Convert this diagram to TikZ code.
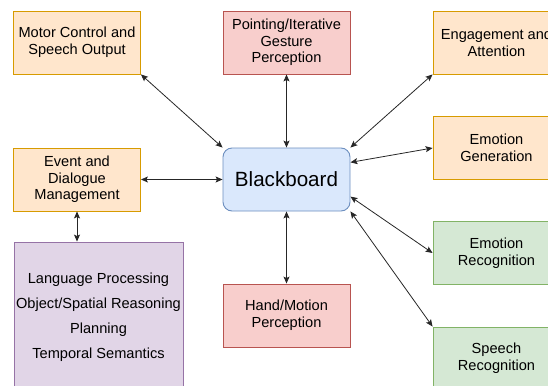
\documentclass[tikz,border=0pt]{standalone}
\usepackage{fontspec}
\setmainfont{Liberation Sans}
\usetikzlibrary{arrows.meta}
\definecolor{orfill}{HTML}{FFE6CC}
\definecolor{ordraw}{HTML}{D79B00}
\definecolor{rdfill}{HTML}{F8CECC}
\definecolor{rddraw}{HTML}{B85450}
\definecolor{grfill}{HTML}{D5E8D4}
\definecolor{grdraw}{HTML}{82B366}
\definecolor{blfill}{HTML}{DAE8FC}
\definecolor{bldraw}{HTML}{6C8EBF}
\definecolor{pufill}{HTML}{E1D5E7}
\definecolor{pudraw}{HTML}{9673A6}
\begin{document}
\begin{tikzpicture}[x=1pt,y=-1pt,line width=0.8pt,
    box/.style={draw,rectangle,line width=0.9pt,minimum width=127pt,minimum height=63pt,
      align=center,inner sep=0pt,font=\fontsize{14.6}{16.7}\selectfont},
    orbox/.style={box,fill=orfill,draw=ordraw},
    rdbox/.style={box,fill=rdfill,draw=rddraw},
    grbox/.style={box,fill=grfill,draw=grdraw},
    link/.style={{Stealth[length=7pt,width=6pt,inset=1.5pt]}-{Stealth[length=7pt,width=6pt,inset=1.5pt]},draw=black!85}]
      \useasboundingbox (0,0) rectangle (548,385);
      \node[orbox] (motor) at (77,42.5) {Motor Control and\\Speech Output};
      \node[rdbox] (point) at (286.5,42.5) {Pointing/Iterative\\Gesture\\Perception};
      \node[orbox] (engage) at (496.5,42.5) {Engagement and\\Attention};
      \node[orbox] (emogen) at (496.5,148) {Emotion\\Generation};
      \node[orbox] (event) at (77,179.5) {Event and\\Dialogue\\Management};
      \node[box,fill=blfill,draw=bldraw,rounded corners=9pt,font=\fontsize{20.6}{24}\selectfont] (bb) at (286.5,179.5) {Blackboard};
      \node[grbox] (emorec) at (496.5,253) {Emotion\\Recognition};
      \node[rdbox] (hand) at (286.5,315.5) {Hand/Motion\\Perception};
      \node[grbox] (speech) at (496.5,358.5) {Speech\\Recognition};
      \node[box,fill=pufill,draw=pudraw,minimum width=169pt,minimum height=151pt,
        font=\fontsize{14.6}{25}\selectfont] (lang) at (98.5,317.5)
        {Language Processing\\Object/Spatial Reasoning\\Planning\\Temporal Semantics};
      \draw[link] (motor.south east) -- (bb.north west);
      \draw[link] (point) -- (bb);
      \draw[link] (engage.south west) -- (bb.north east);
      \draw[link] (emogen.west) -- (bb.15);
      \draw[link] (event) -- (bb);
      \draw[link] (emorec.west) -- (bb.-15);
      \draw[link] (speech.north west) -- (bb.south east);
      \draw[link] (hand) -- (bb);
      \draw[link] (event) -- (event |- lang.north);
    \end{tikzpicture}
\end{document}
